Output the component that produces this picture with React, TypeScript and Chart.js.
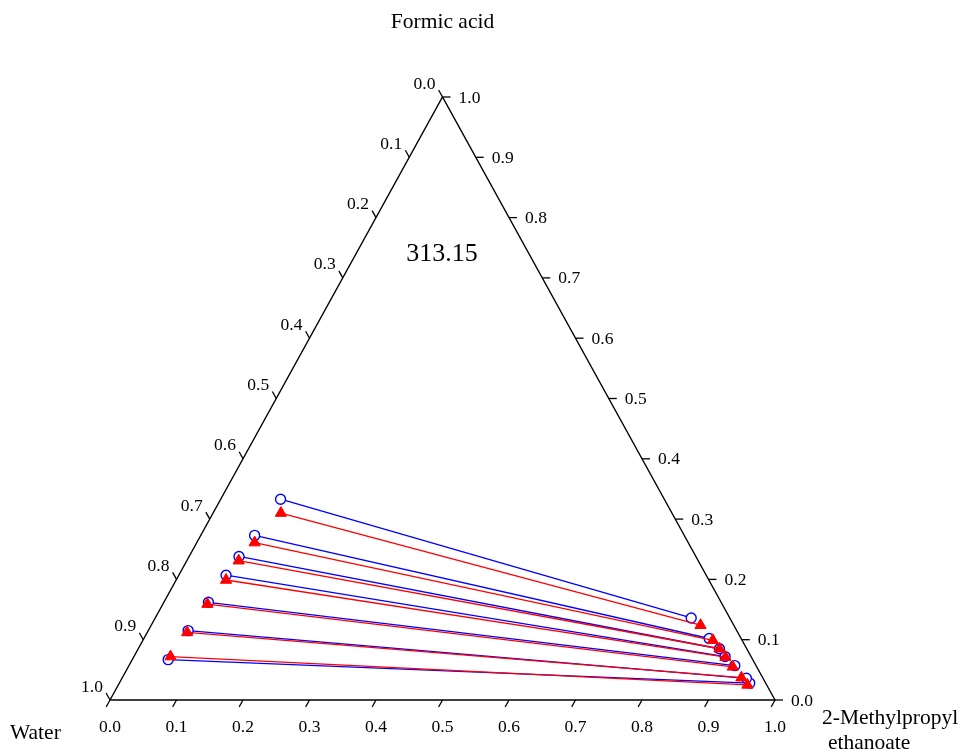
import { useEffect, useRef } from "react";
import { Chart, registerables } from "chart.js";

Chart.register(...registerables);

// Axis ticks (mass fractions)
const TICKS = [0, 0.1, 0.2, 0.3, 0.4, 0.5, 0.6, 0.7, 0.8, 0.9, 1.0];
const TICK_LABELS = ["0.0", "0.1", "0.2", "0.3", "0.4", "0.5", "0.6", "0.7", "0.8", "0.9", "1.0"];

// Component names
const TOP_NAME = "Formic acid";
const LEFT_NAME = "Water";
const RIGHT_NAME_1 = "2-Methylpropyl";
const RIGHT_NAME_2 = "ethanoate";
const TEMPERATURE_LABEL = "313.15";

// Experimental tie lines (blue, open circles): water-rich phase
const expAqFormic = [0.333, 0.273, 0.238, 0.207, 0.162, 0.115, 0.067];
const expAqEster = [0.090, 0.081, 0.075, 0.071, 0.067, 0.060, 0.054];
// Experimental: ester-rich phase
const expOrgFormic = [0.136, 0.102, 0.085, 0.072, 0.057, 0.036, 0.028];
const expOrgEster = [0.806, 0.850, 0.874, 0.889, 0.911, 0.939, 0.948];

// Calculated tie lines (red, filled triangles): water-rich phase
const calAqFormic = [0.310, 0.261, 0.231, 0.199, 0.159, 0.112, 0.072];
const calAqEster = [0.102, 0.087, 0.078, 0.075, 0.067, 0.060, 0.055];
// Calculated: ester-rich phase
const calOrgFormic = [0.124, 0.099, 0.085, 0.071, 0.055, 0.037, 0.025];
const calOrgEster = [0.826, 0.857, 0.874, 0.890, 0.909, 0.931, 0.946];

const FONT = '"Liberation Serif", "Times New Roman", serif';

// ternary (ester, formic) -> cartesian
function toXY(ester: number, formic: number) {
  return { x: ester + formic / 2, y: formic };
}

const ternaryPlugin = {
  id: "ternaryAxes",
  afterDraw(chart: any) {
    const { ctx } = chart;
    const xs = chart.scales.x;
    const ys = chart.scales.y;
    const P = (e: number, f: number): [number, number] => [
      xs.getPixelForValue(e + f / 2),
      ys.getPixelForValue(f),
    ];
    const [tx, ty] = P(0, 1);
    const [lx, ly] = P(0, 0);
    const [rx, ry] = P(1, 0);
    let d1x = lx - tx, d1y = ly - ty;
    const n1 = Math.hypot(d1x, d1y);
    d1x /= n1; d1y /= n1;
    let d2x = rx - tx, d2y = ry - ty;
    const n2 = Math.hypot(d2x, d2y);
    d2x /= n2; d2y /= n2;
    const L = 8;

    ctx.save();
    ctx.strokeStyle = "#000";
    ctx.fillStyle = "#000";
    ctx.lineWidth = 1.3;
    ctx.font = `17.5px ${FONT}`;
    TICKS.forEach((v, i) => {
      const lab = TICK_LABELS[i];
      // bottom axis: ester fraction
      const [bx, by] = P(v, 0);
      ctx.beginPath();
      ctx.moveTo(bx, by);
      ctx.lineTo(bx + d1x * L, by + d1y * L);
      ctx.stroke();
      ctx.textAlign = "center";
      ctx.textBaseline = "middle";
      ctx.fillText(lab, bx, by + 27);
      // left axis: water fraction
      const [ax, ay] = P(0, 1 - v);
      ctx.beginPath();
      ctx.moveTo(ax, ay);
      ctx.lineTo(ax - d2x * L, ay - d2y * L);
      ctx.stroke();
      ctx.fillText(lab, ax - 18, ay - 13);
      // right axis: formic acid fraction
      const [cx, cy] = P(1 - v, v);
      ctx.beginPath();
      ctx.moveTo(cx, cy);
      ctx.lineTo(cx + L, cy);
      ctx.stroke();
      ctx.textAlign = "left";
      ctx.fillText(lab, cx + 16, cy + 1);
    });

    ctx.font = `21.5px ${FONT}`;
    ctx.textAlign = "center";
    ctx.textBaseline = "middle";
    ctx.fillText(TOP_NAME, tx, 22);
    ctx.textAlign = "left";
    ctx.fillText(LEFT_NAME, 10, 733);
    ctx.fillText(RIGHT_NAME_1, 822, 718);
    ctx.fillText(RIGHT_NAME_2, 828, 743);
    ctx.font = `26px ${FONT}`;
    ctx.textAlign = "center";
    ctx.fillText(TEMPERATURE_LABEL, 442, 254);
    ctx.restore();
  },
};

export default function App() {
  const ref = useRef<HTMLCanvasElement | null>(null);
  useEffect(() => {
    if (!ref.current) return;
    const datasets: any[] = [];
    for (let i = 0; i < calAqFormic.length; i++) {
      datasets.push({
        order: 0,
        data: [toXY(calAqEster[i], calAqFormic[i]), toXY(calOrgEster[i], calOrgFormic[i])],
        showLine: true,
        borderColor: "#ff0000",
        backgroundColor: "#ff0000",
        borderWidth: 1.3,
        pointStyle: "triangle",
        pointRadius: 6.5,
        pointBorderWidth: 1,
        pointBorderColor: "#ff0000",
        pointBackgroundColor: "#ff0000",
        clip: false,
      });
    }
    for (let i = 0; i < expAqFormic.length; i++) {
      datasets.push({
        order: 1,
        data: [toXY(expAqEster[i], expAqFormic[i]), toXY(expOrgEster[i], expOrgFormic[i])],
        showLine: true,
        borderColor: "#0000ff",
        backgroundColor: "#ffffff",
        borderWidth: 1.3,
        pointStyle: "circle",
        pointRadius: 5,
        pointBorderWidth: 1.4,
        pointBorderColor: "#0000ff",
        pointBackgroundColor: "#ffffff",
        clip: false,
      });
    }
    // triangle frame
    datasets.push({
      order: 2,
      data: [toXY(0, 0), toXY(1, 0), toXY(0, 1), toXY(0, 0)],
      showLine: true,
      borderColor: "#000000",
      borderWidth: 1.4,
      pointRadius: 0,
      clip: false,
    });

    const chart = new Chart(ref.current, {
      type: "scatter",
      data: { datasets },
      options: {
        responsive: false,
        animation: false,
        layout: { padding: { left: 110, right: 189, top: 97, bottom: 54 } },
        scales: {
          x: { type: "linear", min: 0, max: 1, display: false },
          y: { type: "linear", min: 0, max: 1, display: false },
        },
        plugins: { legend: { display: false }, tooltip: { enabled: false } },
      },
      plugins: [ternaryPlugin],
    } as any);
    return () => chart.destroy();
  }, []);
  return (
    <div style={{ position: "fixed", left: 0, top: 0, width: 964, height: 754, background: "#fff" }}>
      <canvas ref={ref} width={964} height={754} />
    </div>
  );
}
